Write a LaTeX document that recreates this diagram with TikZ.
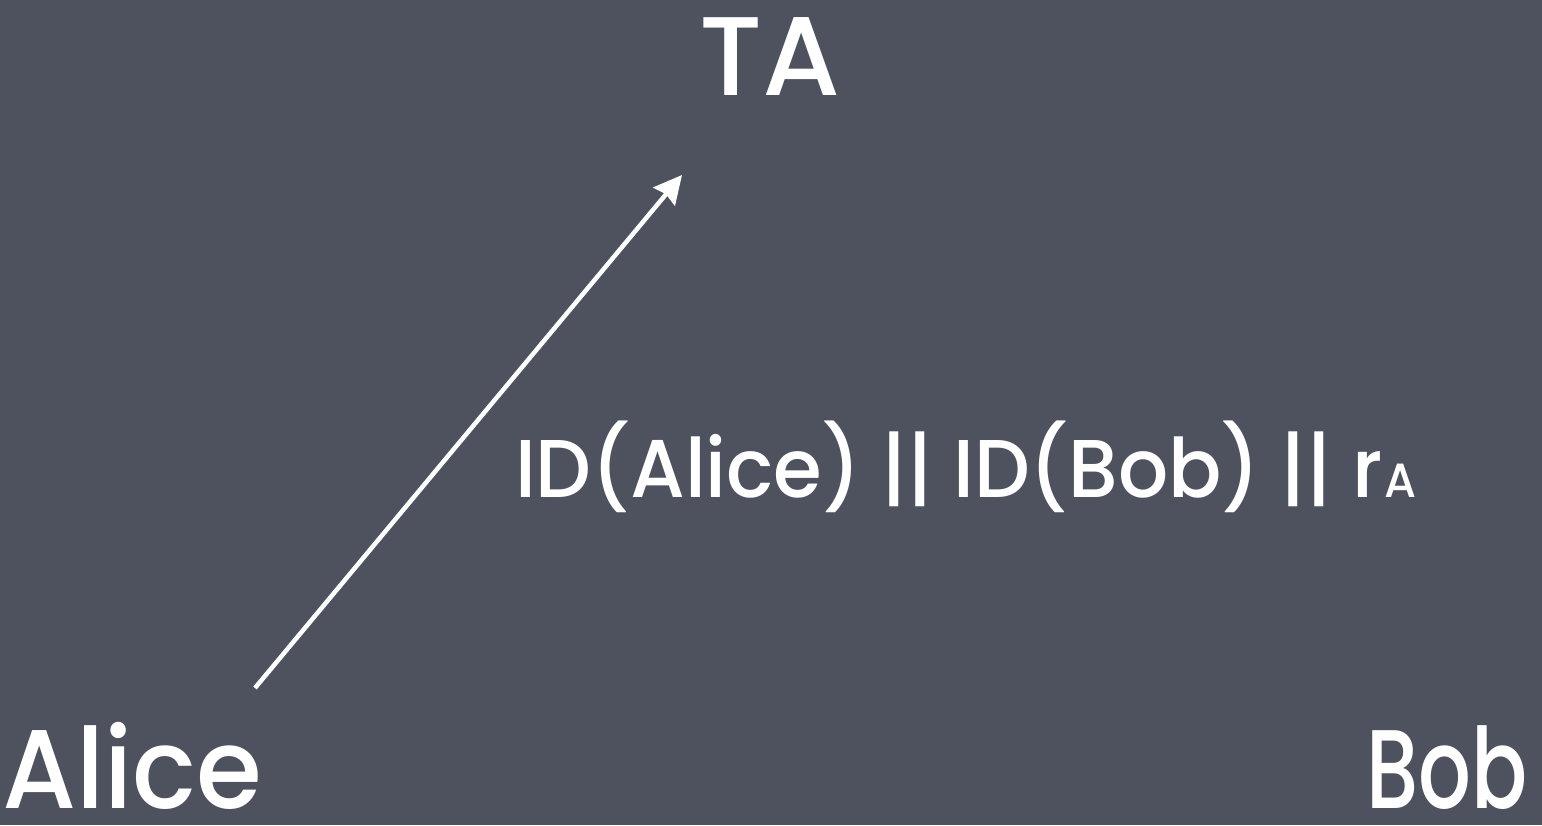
\documentclass[tikz,border=0pt]{standalone}
\usepackage{fontspec}
\setmainfont{Poppins Medium}
\usetikzlibrary{arrows.meta}
\definecolor{board}{HTML}{4D525E}
\tikzset{
  chalk/.style={text=white, inner sep=0pt, outer sep=0pt},
  arrowline/.style={draw=white, line width=4.5pt, -{Stealth[length=28pt,width=28pt,inset=3pt]}}
}
\begin{document}
\begin{tikzpicture}[x=1pt,y=-1pt]
\fill[board] (0,0) rectangle (1542,825);
\useasboundingbox (0,0) rectangle (1542,825);
\node[chalk, anchor=base, font=\fontsize{112}{112}\selectfont] (ta) at (770,95) {TA};
\node[chalk, anchor=base west, font=\fontsize{112}{112}\selectfont] (alice) at (2,808) {\scalebox{0.95}[1]{Alice}};
\node[chalk, anchor=base east, font=\fontsize{112}{112}\selectfont] (bob) at (1528,808) {\scalebox{0.74}[1]{Bob}};
\node[chalk, anchor=base west, font=\fontsize{82}{82}\selectfont] (msg) at (515,497) {\scalebox{0.96}[1]{ID(Alice) || ID(Bob) || r\kern2pt{\fontsize{48}{48}\selectfont A}}};
\coordinate (s) at (255,688);
\coordinate (e) at (682,175);
\draw[arrowline] (s) -- (e);
\end{tikzpicture}
\end{document}
